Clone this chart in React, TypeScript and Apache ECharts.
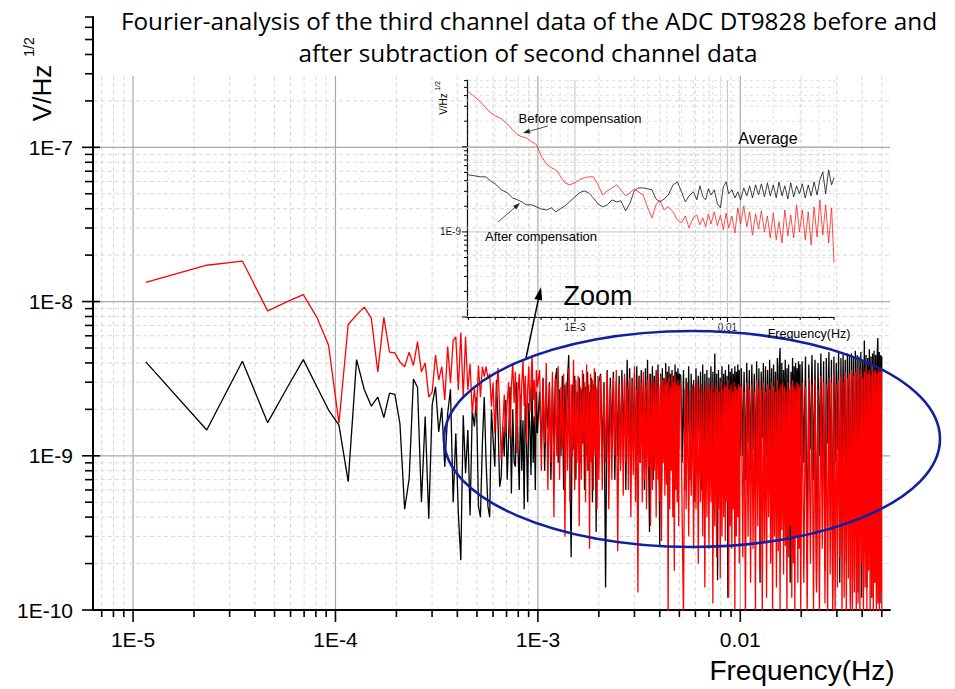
import React, { useEffect, useRef } from "react";
import * as echarts from "echarts";

// ---------------- data ----------------
// FFT bin spacing (Hz) of the spectra
const BIN_HZ = 1.156e-5;

// main chart, bins 1..86 (values in nV/Hz^1/2)
const afterLowNV = [
  4.06, 1.47, 4.1, 1.64, 2.77, 4.2, 2.8, 1.98, 1.58, 0.68,
  4.2, 2.69, 2.1, 2.4, 1.77, 2.55, 2.5, 1.63, 0.45, 0.71,
  3.15, 2.77, 0.5, 1.8, 0.39, 2.15, 2.8, 1.43, 2.05, 0.85,
  1.88, 2.7, 0.5, 1.4, 0.42, 0.21, 1.83, 0.77, 1.47, 0.41,
  1.98, 1.55, 2.4, 0.47, 0.4, 1.2, 2.4, 0.9, 0.47, 0.4,
  2.0, 1.26, 0.85, 3.1, 1.6, 0.63, 0.73, 1.55, 0.99, 2.3,
  0.7, 1.3, 2.8, 0.57, 2.0, 0.9, 0.85, 3.0, 1.1, 0.6,
  2.5, 0.8, 1.7, 0.45, 2.9, 1.2, 0.5, 2.2, 1.5, 0.75,
  3.2, 0.9, 1.8, 0.6, 2.6, 1.4,
];
const beforeLowNV = [
  13.3, 17.2, 18.3, 8.7, 10.0, 11.1, 7.9, 5.2, 1.63, 7.1,
  8.2, 9.2, 7.8, 3.5, 7.9, 4.7, 4.65, 4.06, 3.78, 4.7,
  3.85, 5.5, 3.5, 4.0, 2.4, 2.6, 4.5, 3.1, 3.78, 2.3,
  5.1, 2.95, 5.6, 5.9, 2.67, 6.3, 2.4, 5.9, 2.67, 3.97,
  1.88, 2.73, 1.88, 3.85, 2.4, 3.78, 3.26, 3.78, 3.17, 3.4,
  2.08, 2.98, 1.4, 2.6, 3.7, 2.0, 0.94, 1.5, 2.5, 1.4,
  2.2, 3.0, 1.3, 2.8, 4.0, 2.2, 3.5, 1.04, 2.6, 3.4,
  1.7, 2.9, 4.2, 2.1, 3.3, 1.2, 2.7, 3.8, 1.9, 3.0,
  4.5, 2.3, 3.1, 1.6, 3.6, 2.8,
];

// main chart, dense part (frequency in mHz, values in nV/Hz^1/2)
const denseFreqMHz = [
  1.02, 1.04, 1.06, 1.08, 1.1, 1.12, 1.14, 1.16, 1.18, 1.2, 1.22, 1.24, 1.26, 1.28, 1.3, 1.32, 1.34,
  1.36, 1.38, 1.4, 1.42, 1.44, 1.46, 1.48, 1.5, 1.52, 1.54, 1.56, 1.58, 1.6, 1.62, 1.64, 1.66, 1.68,
  1.7, 1.72, 1.74, 1.76, 1.78, 1.8, 1.82, 1.84, 1.86, 1.88, 1.9, 1.92, 1.94, 1.96, 1.98, 2.0,
  2.04, 2.08, 2.12, 2.16, 2.2, 2.24, 2.28, 2.32, 2.36, 2.4, 2.44, 2.48, 2.52, 2.56, 2.6, 2.64, 2.68,
  2.72, 2.76, 2.8, 2.84, 2.88, 2.92, 2.96, 3.0, 3.04, 3.08, 3.12, 3.16, 3.2, 3.24, 3.28, 3.32, 3.36,
  3.4, 3.44, 3.48, 3.52, 3.56, 3.6, 3.64, 3.68, 3.72, 3.76, 3.8, 3.84, 3.88, 3.92, 3.96, 4.0, 4.04,
  4.08, 4.12, 4.16, 4.2, 4.24, 4.28, 4.32, 4.36, 4.4, 4.44, 4.48, 4.52, 4.56, 4.6, 4.64, 4.68, 4.72,
  4.76, 4.8, 4.84, 4.88, 4.92, 4.96, 5.0,
  5.08, 5.16, 5.24, 5.32, 5.4, 5.48, 5.56, 5.64, 5.72, 5.8, 5.88, 5.96, 6.04, 6.12, 6.2, 6.28, 6.36,
  6.44, 6.52, 6.6, 6.68, 6.76, 6.84, 6.92, 7.0, 7.08, 7.16, 7.24, 7.32, 7.4, 7.48, 7.56, 7.64, 7.72,
  7.8, 7.88, 7.96, 8.04, 8.12, 8.2, 8.28, 8.36, 8.44, 8.52, 8.6, 8.68, 8.76, 8.84, 8.92, 9.0, 9.08,
  9.16, 9.24, 9.32, 9.4, 9.48, 9.56, 9.64, 9.72, 9.8, 9.88, 9.96,
  10.12, 10.28, 10.44, 10.6, 10.76, 10.92, 11.08, 11.24, 11.4, 11.56, 11.72, 11.88, 12.04, 12.2,
  12.36, 12.52, 12.68, 12.84, 13.0, 13.16, 13.32, 13.48, 13.64, 13.8, 13.96, 14.12, 14.28, 14.44,
  14.6, 14.76, 14.92, 15.08, 15.24, 15.4, 15.56, 15.72, 15.88, 16.04, 16.2, 16.36, 16.52, 16.68,
  16.84, 17.0, 17.16, 17.32, 17.48, 17.64, 17.8, 17.96, 18.12, 18.28, 18.44, 18.6, 18.76, 18.92,
  19.08, 19.24, 19.4, 19.56, 19.72, 19.88,
  20.2, 20.6, 21.0, 21.4, 21.8, 22.2, 22.6, 23.0, 23.4, 23.8, 24.2, 24.6, 25.0, 25.4, 25.8, 26.2,
  26.6, 27.0, 27.4, 27.8, 28.2, 28.6, 29.0, 29.4, 29.8, 30.2, 30.6, 31.0, 31.4, 31.8, 32.2, 32.6,
  33.0, 33.4, 33.8, 34.2, 34.6, 35.0, 35.4, 35.8, 36.2, 36.6, 37.0, 37.4, 37.8, 38.2, 38.6, 39.0,
  39.4, 39.8, 40.2, 40.6, 41.0, 41.4, 41.8, 42.2, 42.6, 43.0, 43.4, 43.8, 44.2, 44.6, 45.0, 45.4,
  45.8, 46.2, 46.6, 47.0, 47.4, 47.8, 48.2, 48.6, 49.0, 49.4, 49.8, 50.0,
];
const afterDenseNV = [
  2.6, 1.1, 3.2, 0.8, 2.4, 1.5, 3.0, 0.7, 2.8, 1.2,
  3.1, 3.7, 0.9, 2.7, 1.0, 3.3, 0.6, 2.9, 1.3, 3.1,
  4.5, 0.8, 0.22, 2.9, 1.1, 3.3, 0.7, 2.6, 1.4, 3.2,
  0.9, 2.7, 1.2, 3.4, 0.6, 2.8, 1.0, 3.5, 0.8, 2.6,
  1.3, 3.2, 0.5, 2.9, 1.1, 3.5, 0.32, 2.7, 0.9, 3.0,
  3.4, 1.0, 3.0, 0.14, 3.6, 0.8, 3.2, 1.3, 3.5, 0.7,
  3.0, 1.0, 3.3, 0.9, 3.6, 1.2, 3.1, 0.6, 4.2, 1.4,
  3.7, 0.8, 3.2, 1.1, 3.4, 0.7, 3.8, 1.0, 3.3, 0.9,
  3.6, 1.2, 3.1, 0.6, 3.7, 0.8, 4.2, 1.1, 0.32, 3.4,
  1.0, 3.8, 0.7, 3.3, 1.2, 3.6, 0.9, 3.9, 1.1, 0.26,
  3.4, 0.6, 3.7, 1.0, 3.2, 0.8, 4.0, 1.3, 3.5, 0.7,
  3.8, 1.1, 3.4, 0.9, 3.6, 1.2, 3.3, 0.8, 3.9, 1.0,
  3.5, 0.7, 3.7, 1.1, 3.4,
  3.3, 0.9, 3.6, 0.6, 3.2, 1.1, 3.8, 0.7, 3.4, 1.0,
  3.1, 0.5, 3.7, 0.9, 3.3, 1.2, 3.5, 0.6, 3.9, 0.8,
  3.4, 1.0, 3.6, 0.7, 3.2, 1.1, 3.8, 0.9, 3.5, 0.6,
  4.6, 0.8, 3.4, 0.156, 3.6, 1.0, 3.2, 0.7, 3.8, 1.1,
  3.4, 0.8, 3.6, 1.0, 3.3, 0.12, 3.9, 0.9, 3.5, 1.2,
  3.7, 0.6, 3.4, 1.0, 3.8, 0.8, 3.5, 1.1, 3.9, 0.7,
  3.6, 1.0,
  3.7, 1.0, 3.5, 0.7, 4.0, 1.2, 3.6, 0.8, 3.9, 1.1,
  3.4, 0.6, 4.1, 0.9, 3.7, 0.15, 3.5, 1.3, 4.0, 0.7,
  3.8, 1.0, 3.6, 0.8, 4.2, 1.2, 3.7, 0.6, 3.9, 1.0,
  3.5, 0.8, 4.3, 1.1, 3.8, 5.0, 0.7, 4.0, 0.9, 3.6,
  1.2, 4.2, 0.6, 3.7, 1.0, 3.9, 0.8, 0.15, 3.5, 1.1,
  4.3, 0.7, 3.8, 1.0, 4.0, 0.9, 3.7, 1.2, 4.1, 0.8,
  3.9, 1.0,
  4.1, 0.9, 4.4, 0.2, 3.9, 1.1, 4.5, 0.7, 4.2, 0.14,
  4.0, 1.0, 4.6, 0.8, 4.1, 0.18, 4.3, 1.2, 4.7, 0.6,
  4.2, 0.12, 4.4, 0.9, 4.0, 1.1, 4.8, 0.15, 4.3, 0.7,
  4.5, 1.0, 4.2, 0.2, 4.6, 0.8, 4.4, 0.11, 4.6, 1.0,
  4.3, 0.16, 4.8, 0.7, 4.5, 0.13, 4.4, 0.9, 4.7, 0.12,
  4.2, 1.0, 5.6, 0.8, 4.5, 0.14, 4.3, 1.1, 4.9, 0.7,
  4.4, 0.12, 4.6, 0.9, 4.8, 0.15, 4.5, 1.0, 4.3, 5.8,
  0.6, 4.7, 0.11, 4.5, 0.9, 4.4,
];
const beforeDenseNV = [
  3.6, 0.8, 3.1, 1.2, 4.0, 0.6, 2.9, 0.9, 3.5, 0.4,
  3.2, 1.0, 3.8, 0.7, 2.8, 1.1, 3.4, 0.3, 3.0, 0.8,
  3.7, 0.5, 2.9, 1.0, 4.2, 0.6, 3.1, 0.9, 3.3, 0.35,
  2.8, 0.7, 3.6, 1.2, 3.0, 0.5, 3.9, 0.8, 2.9, 0.25,
  3.4, 0.9, 3.1, 0.6, 3.7, 1.0, 2.8, 0.45, 3.3, 0.7,
  3.3, 0.6, 3.0, 0.9, 3.5, 0.45, 2.8, 0.7, 3.2, 1.0,
  3.6, 0.24, 2.9, 0.8, 3.1, 0.55, 3.4, 0.9, 2.8, 0.6,
  3.2, 0.4, 3.0, 0.75, 3.8, 0.5, 2.7, 0.13, 3.3, 0.9,
  3.0, 0.5, 3.5, 0.7, 2.8, 0.45, 3.1, 0.85, 3.4, 0.35,
  2.9, 0.6, 3.2, 0.8, 3.0, 0.4, 3.6, 0.7, 2.8, 0.5,
  3.3, 0.28, 3.1, 0.9, 2.9, 0.55, 3.4, 0.65, 3.0, 0.09,
  3.2, 0.45, 2.8, 0.8, 3.5, 0.4, 3.0, 0.18, 3.3, 0.6,
  2.9, 0.5, 3.1, 0.35, 2.8,
  2.9, 0.4, 0.09, 2.7, 0.45, 3.0, 0.3, 2.6, 0.55, 2.9,
  0.25, 2.8, 0.45, 3.1, 0.2, 2.7, 0.5, 2.9, 0.3, 2.6,
  0.14, 3.0, 0.4, 2.8, 0.25, 2.7, 0.5, 3.0, 0.11, 2.6,
  0.35, 2.9, 0.22, 2.8, 0.45, 2.6, 0.16, 3.0, 0.3, 2.7,
  0.4, 2.9, 0.28, 2.8, 0.5, 3.1, 0.12, 2.7, 0.35, 2.9,
  0.25, 2.6, 0.45, 3.0, 0.1, 2.8, 0.3, 2.7, 0.4, 2.9,
  0.2, 2.8,
  2.8, 0.22, 2.6, 0.09, 3.0, 0.3, 2.7, 0.15, 2.9, 0.25,
  2.6, 0.1, 3.1, 0.35, 2.8, 0.18, 2.7, 0.09, 3.0, 0.28,
  2.6, 0.12, 2.9, 0.4, 2.7, 0.2, 3.0, 0.09, 2.8, 0.3,
  2.6, 0.14, 3.1, 0.24, 2.7, 0.1, 2.9, 0.33, 3.0, 0.17,
  2.8, 0.26, 2.6, 0.09, 3.0, 0.22, 2.7, 0.35, 2.9, 0.12,
  3.1, 0.2, 2.8, 0.09, 2.7, 0.3, 3.0, 0.15, 2.9, 0.25,
  2.8, 0.1,
  3.0, 0.15, 2.8, 0.09, 3.2, 0.2, 2.9, 0.1, 3.1, 0.13,
  2.7, 0.09, 3.3, 0.25, 3.0, 0.11, 2.9, 0.09, 3.2, 0.17,
  3.0, 0.1, 3.4, 0.09, 2.9, 0.14, 3.1, 0.22, 3.3, 0.09,
  3.0, 0.12, 3.5, 0.09, 3.2, 0.16, 3.4, 0.1, 3.6, 0.09,
  3.3, 0.13, 3.5, 0.09, 3.7, 0.11, 3.4, 0.09, 3.6, 0.2,
  3.2, 0.09, 3.5, 0.14, 3.7, 0.1, 3.4, 0.18, 3.6, 0.09,
  3.3, 0.12, 3.8, 0.09, 3.5, 0.15, 3.6, 0.09, 3.4, 0.11,
  3.7, 0.09, 3.5, 0.13, 3.6, 0.08,
];

// inset (averaged spectra): frequency in mHz, values in nV/Hz^1/2
const insetFreqMHz = [
  0.2, 0.22, 0.24, 0.26, 0.28, 0.3, 0.33, 0.36, 0.39, 0.42, 0.45, 0.48, 0.52, 0.56, 0.6, 0.65, 0.7, 0.75, 0.8, 0.86, 0.92,
  1.0, 1.07, 1.15, 1.23, 1.32, 1.42, 1.52, 1.63, 1.75, 1.88, 2.0, 2.15, 2.3, 2.45, 2.6, 2.8, 3.0, 3.2, 3.4, 3.6, 3.85,
  4.1, 4.4, 4.7, 5.0, 5.3, 5.6,
  6.0, 6.3, 6.6, 6.9, 7.2, 7.5, 7.8, 8.2, 8.6, 9.0, 9.4, 9.8, 10.2, 10.7, 11.2, 11.7, 12.2, 12.8, 13.4, 14.0,
  14.6, 15.3, 16.0, 16.7, 17.5, 18.3, 19.1, 20.0, 20.9, 21.8, 22.8, 23.8, 24.9, 26.0, 27.2, 28.4, 29.7, 31.0,
  32.4, 33.9, 35.4, 37.0, 38.7, 40.4, 42.2, 44.1, 46.1, 48.2, 50.0,
];
const insetBeforeNV = [
  44.4, 38.7, 33.8, 28.8, 25.1, 23.2, 21.3, 18.7, 15.85, 13.8, 13.1, 12.8, 11.5, 10.6, 7.84, 6.31, 5.66, 5.36, 4.56, 3.77, 3.57,
  3.77, 4.09, 4.32, 4.44, 4.44, 3.57, 2.72, 3.04, 3.29, 3.57, 3.12, 2.65, 2.88, 3.21, 2.96, 2.72, 1.92, 1.46, 2.08, 2.38, 1.81,
  1.97, 1.72, 1.38, 1.28, 1.54, 1.11,
  1.5, 1.58, 1.21, 1.46, 1.15, 1.63, 1.24, 1.72, 1.18, 1.58, 1.06, 1.67, 1.11, 1.54, 0.97, 1.92, 1.24, 2.02, 1.15, 1.72,
  0.92, 1.63, 1.08, 1.77, 1.0, 1.54, 0.85, 1.67, 0.81, 1.31, 0.74, 1.81, 0.9, 1.58, 0.85, 2.08, 1.0, 1.81, 0.81, 1.72,
  0.7, 1.97, 0.87, 2.38, 0.92, 2.08, 0.74, 1.92, 0.44,
];
const insetAfterNV = [
  4.69, 4.56, 4.44, 4.44, 3.98, 3.67, 3.12, 2.88, 2.51, 2.38, 2.25, 2.08, 2.08, 1.97, 1.86, 1.81, 1.92, 1.72, 1.86, 2.02, 2.25,
  2.58, 2.88, 3.04, 2.88, 2.51, 2.13, 1.97, 2.08, 2.38, 2.25, 2.32, 1.77, 2.19, 3.04, 3.29, 3.29, 3.21, 3.12, 2.44, 2.25, 2.44,
  2.72, 3.57, 3.87, 2.96, 2.25, 2.65,
  2.96, 2.38, 3.48, 2.58, 2.38, 3.21, 2.72, 3.12, 2.13, 1.92, 3.38, 3.87, 2.8, 3.12, 2.51, 2.96, 2.38, 3.29, 2.65, 3.48,
  2.51, 3.57, 2.72, 3.67, 2.58, 3.77, 2.65, 3.57, 2.51, 3.87, 2.65, 3.48, 2.44, 3.77, 2.58, 3.48, 2.8, 3.67, 2.51, 3.57,
  2.65, 3.87, 2.72, 4.09, 5.08, 2.8, 5.36, 3.57, 4.32,
];

// axes: ranges and ticks
const MAIN_X_RANGE = [6.34e-6, 0.0549];
const MAIN_Y_RANGE = [1e-10, 7e-7];
const MAIN_GRID_TOP = 2.9e-7;
const INSET_X_RANGE = [1.96e-4, 0.05];
const INSET_Y_RANGE = [1e-10, 6.1e-8];
const MAIN_X_MAJOR = [1e-5, 1e-4, 1e-3, 1e-2];
const MAIN_X_DECADES = [1e-6, 1e-5, 1e-4, 1e-3, 1e-2];
const MAIN_Y_MAJOR = [1e-10, 1e-9, 1e-8, 1e-7];
const MAIN_Y_DECADES = [1e-10, 1e-9, 1e-8, 1e-7];
const INSET_X_MAJOR = [1e-3, 1e-2];
const INSET_X_DECADES = [1e-4, 1e-3, 1e-2];
const INSET_Y_MAJOR = [1e-10, 1e-9, 1e-8];
const INSET_Y_DECADES = [1e-10, 1e-9, 1e-8];
const MINOR_MULT = [2, 3, 4, 5, 6, 7, 8, 9];

const TITLE_1 = "Fourier-analysis of the third channel data of the ADC DT9828 before and";
const TITLE_2 = "after subtraction of second channel data";

// ---------------- helpers ----------------
const SANS = "'Liberation Sans', Arial, sans-serif";
const TITLE_FONT = "'Open Sans', 'Liberation Sans', sans-serif";
const NV = 1e-9;

const mainAfter = [
  ...afterLowNV.map((v, i) => [(i + 1) * BIN_HZ, v * NV]),
  ...afterDenseNV.map((v, i) => [denseFreqMHz[i] * 1e-3, v * NV]),
];
const mainBefore = [
  ...beforeLowNV.map((v, i) => [(i + 1) * BIN_HZ, v * NV]),
  ...beforeDenseNV.map((v, i) => [denseFreqMHz[i] * 1e-3, v * NV]),
];
const insetAfter = insetAfterNV.map((v, i) => [insetFreqMHz[i] * 1e-3, v * NV]);
const insetBefore = insetBeforeNV.map((v, i) => [insetFreqMHz[i] * 1e-3, v * NV]);

const inRange = (v: number, r: number[]) => v >= r[0] * 0.9999 && v <= r[1] * 1.0001;
const minors = (dec: number[], r: number[]) =>
  dec.flatMap((d) => MINOR_MULT.map((m) => m * d)).filter((v) => inRange(v, r));

function tickItems(majX: number[], decX: number[], majY: number[], decY: number[], xr: number[], yr: number[]) {
  const xMid = Math.sqrt(xr[0] * xr[1]);
  const yMid = Math.sqrt(yr[0] * yr[1]);
  const items: number[][] = [];
  majX.filter((v) => inRange(v, xr)).forEach((v) => items.push([v, yMid, 0, 1]));
  minors(decX, xr).forEach((v) => items.push([v, yMid, 0, 0]));
  majY.filter((v) => inRange(v, yr)).forEach((v) => items.push([xMid, v, 1, 1]));
  minors(decY, yr).forEach((v) => items.push([xMid, v, 1, 0]));
  return items;
}

type TickCfg = {
  gridTop: number;
  majorGrid: string;
  minorGrid: string;
  majorGridWidth: number;
  minorGridWidth: number;
  dash: number[];
  tickColor: string;
  tickWidth: number;
  xMajorLen: number;
  xMinorLen: number;
  yMajorOut: number;
  yMajorIn: number;
  yMinorOut: number;
};

function makeRender(cfg: TickCfg) {
  return (params: any, api: any) => {
    const cs = params.coordSys;
    const left = cs.x;
    const right = cs.x + cs.width;
    const bottom = cs.y + cs.height;
    const xv = api.value(0);
    const yv = api.value(1);
    const axis = api.value(2);
    const major = api.value(3) === 1;
    const children: any[] = [];
    const gridStyle = major
      ? { stroke: cfg.majorGrid, lineWidth: cfg.majorGridWidth }
      : { stroke: cfg.minorGrid, lineWidth: cfg.minorGridWidth, lineDash: cfg.dash };
    const tickStyle = { stroke: cfg.tickColor, lineWidth: cfg.tickWidth };
    if (axis === 0) {
      const px = api.coord([xv, yv])[0];
      const topPx = api.coord([xv, cfg.gridTop])[1];
      children.push({ type: "line", shape: { x1: px, y1: topPx, x2: px, y2: bottom - 1 }, style: gridStyle });
      children.push({
        type: "line",
        shape: { x1: px, y1: bottom, x2: px, y2: bottom + (major ? cfg.xMajorLen : cfg.xMinorLen) },
        style: tickStyle,
      });
    } else {
      const py = api.coord([xv, yv])[1];
      if (yv <= cfg.gridTop * 1.0001 && py < bottom - 1.5) {
        children.push({ type: "line", shape: { x1: left + 1, y1: py, x2: right, y2: py }, style: gridStyle });
      }
      children.push({
        type: "line",
        shape: {
          x1: left - (major ? cfg.yMajorOut : cfg.yMinorOut),
          y1: py,
          x2: left + (major ? cfg.yMajorIn : 0),
          y2: py,
        },
        style: tickStyle,
      });
    }
    return { type: "group", children };
  };
}

const powLabel = (v: number) => {
  const e = Math.log10(v);
  const r = Math.round(e);
  if (Math.abs(e - r) > 1e-6) return "";
  if (r >= -2) return Math.pow(10, r).toFixed(Math.max(0, -r));
  return `1E${r}`;
};

function text(t: string, x: number, y: number, size: number, font = SANS, rotation = 0, align = "center") {
  return {
    type: "text",
    x,
    y,
    rotation,
    z: 100,
    silent: true,
    style: {
      text: t,
      fill: "#000",
      fontSize: size,
      fontFamily: font,
      align,
      verticalAlign: "middle",
      textAlign: align,
      textVerticalAlign: "middle",
    },
  };
}

function arrow(x1: number, y1: number, x2: number, y2: number, color: string, width: number, headLen: number, headW: number) {
  const dx = x2 - x1;
  const dy = y2 - y1;
  const L = Math.hypot(dx, dy);
  const ux = dx / L;
  const uy = dy / L;
  const bx = x2 - ux * headLen;
  const by = y2 - uy * headLen;
  const px = -uy * headW;
  const py = ux * headW;
  return [
    { type: "line", z: 100, silent: true, shape: { x1, y1, x2: bx, y2: by }, style: { stroke: color, lineWidth: width } },
    {
      type: "polygon",
      z: 100,
      silent: true,
      shape: { points: [[x2, y2], [bx + px, by + py], [bx - px, by - py]] },
      style: { fill: color },
    },
  ];
}

// ---------------- option ----------------
function buildOption() {
  const mainTicks = tickItems(MAIN_X_MAJOR, MAIN_X_DECADES, MAIN_Y_MAJOR, MAIN_Y_DECADES, MAIN_X_RANGE, MAIN_Y_RANGE);
  const insetTicks = tickItems(INSET_X_MAJOR, INSET_X_DECADES, INSET_Y_MAJOR, INSET_Y_DECADES, INSET_X_RANGE, INSET_Y_RANGE);

  const mainRender = makeRender({
    gridTop: MAIN_GRID_TOP,
    majorGrid: "#a9a9a9",
    minorGrid: "#d4d4d4",
    majorGridWidth: 1.2,
    minorGridWidth: 0.9,
    dash: [4, 3],
    tickColor: "#000",
    tickWidth: 1.6,
    xMajorLen: 12,
    xMinorLen: 7,
    yMajorOut: 11,
    yMajorIn: 7,
    yMinorOut: 8,
  });
  const insetRender = makeRender({
    gridTop: INSET_Y_RANGE[1],
    majorGrid: "#c4c4c4",
    minorGrid: "#dadada",
    majorGridWidth: 1,
    minorGridWidth: 0.8,
    dash: [3, 3],
    tickColor: "#000",
    tickWidth: 1,
    xMajorLen: 5,
    xMinorLen: 3,
    yMajorOut: 5,
    yMajorIn: 0,
    yMinorOut: 3,
  });

  const axisBase = {
    type: "log",
    logBase: 10,
    axisTick: { show: false },
    minorTick: { show: false },
    splitLine: { show: false },
    minorSplitLine: { show: false },
    splitArea: { show: false },
  };

  const graphics: any[] = [
    text(TITLE_1, 529, 20, 24.3, TITLE_FONT),
    text(TITLE_2, 528, 52, 24.3, TITLE_FONT),
    text("V/Hz", 42, 93, 26, SANS, Math.PI / 2),
    text("1/2", 29, 47, 14, SANS, Math.PI / 2),
    text("Frequency(Hz)", 802, 670, 28),
    text("Before compensation", 580, 118, 13),
    text("After compensation", 541, 236, 13),
    text("Average", 768, 138, 16),
    text("Zoom", 598, 296, 27),
    text("Frequency(Hz)", 809, 334, 12.5),
    text("V/Hz", 443, 104, 10, SANS, Math.PI / 2),
    text("1/2", 437, 86, 7, SANS, Math.PI / 2),
    ...arrow(548, 126, 523, 133, "#222", 0.8, 7, 2.5),
    ...arrow(498, 222, 520, 203, "#222", 0.8, 7, 2.5),
    ...arrow(526, 358, 541, 287, "#000", 1.5, 13, 4),
    {
      type: "ellipse",
      z: 99,
      silent: true,
      shape: { cx: 692, cy: 439, rx: 248, ry: 108 },
      style: { fill: "none", stroke: "#10209e", lineWidth: 2.6 },
    },
  ];

  return {
    animation: false,
    backgroundColor: "#ffffff",
    grid: [
      { left: 93, right: 65, top: 17, bottom: 79, containLabel: false, outerBoundsMode: "none", show: false },
      { left: 467, right: 121, top: 80, bottom: 372, containLabel: false, outerBoundsMode: "none", show: false },
    ],
    xAxis: [
      {
        ...axisBase,
        gridIndex: 0,
        min: MAIN_X_RANGE[0],
        max: MAIN_X_RANGE[1],
        axisLine: { show: true, onZero: false, lineStyle: { color: "#000", width: 2 } },
        axisLabel: { show: true, formatter: powLabel, fontSize: 21, fontFamily: SANS, color: "#000", margin: 19 },
      },
      {
        ...axisBase,
        gridIndex: 1,
        min: INSET_X_RANGE[0],
        max: INSET_X_RANGE[1],
        axisLine: { show: true, onZero: false, lineStyle: { color: "#000", width: 1.2 } },
        axisLabel: { show: true, formatter: powLabel, fontSize: 10, fontFamily: SANS, color: "#111", margin: 5 },
      },
    ],
    yAxis: [
      {
        ...axisBase,
        gridIndex: 0,
        min: MAIN_Y_RANGE[0],
        max: MAIN_Y_RANGE[1],
        axisLine: { show: true, onZero: false, lineStyle: { color: "#000", width: 2 } },
        axisLabel: { show: true, formatter: powLabel, fontSize: 21, fontFamily: SANS, color: "#000", margin: 20 },
      },
      {
        ...axisBase,
        gridIndex: 1,
        min: INSET_Y_RANGE[0],
        max: INSET_Y_RANGE[1],
        axisLine: { show: true, onZero: false, lineStyle: { color: "#000", width: 1.2 } },
        axisLabel: {
          show: true,
          formatter: (v: number) => (powLabel(v) === "1E-9" ? "1E-9" : ""),
          fontSize: 10,
          fontFamily: SANS,
          color: "#111",
          margin: 6,
        },
      },
    ],
    series: [
      {
        type: "custom",
        name: "mainTicks",
        xAxisIndex: 0,
        yAxisIndex: 0,
        data: mainTicks,
        renderItem: mainRender,
        clip: false,
        silent: true,
        z: 1,
      },
      {
        type: "custom",
        name: "insetTicks",
        xAxisIndex: 1,
        yAxisIndex: 1,
        data: insetTicks,
        renderItem: insetRender,
        clip: false,
        silent: true,
        z: 1,
      },
      {
        type: "line",
        name: "After compensation",
        xAxisIndex: 0,
        yAxisIndex: 0,
        data: mainAfter,
        showSymbol: false,
        symbol: "none",
        clip: true,
        lineStyle: { color: "#000", width: 1.3 },
        z: 3,
      },
      {
        type: "line",
        name: "Before compensation",
        xAxisIndex: 0,
        yAxisIndex: 0,
        data: mainBefore,
        showSymbol: false,
        symbol: "none",
        clip: true,
        lineStyle: { color: "#ff0000", width: 1.3 },
        z: 4,
      },
      {
        type: "line",
        name: "Inset after",
        xAxisIndex: 1,
        yAxisIndex: 1,
        data: insetAfter,
        showSymbol: false,
        symbol: "none",
        clip: true,
        lineStyle: { color: "#111", width: 0.8 },
        z: 5,
      },
      {
        type: "line",
        name: "Inset before",
        xAxisIndex: 1,
        yAxisIndex: 1,
        data: insetBefore,
        showSymbol: false,
        symbol: "none",
        clip: true,
        lineStyle: { color: "#ff2020", width: 0.8 },
        z: 6,
      },
    ],
    graphic: graphics,
  };
}

export default function App() {
  const ref = useRef<HTMLDivElement>(null);
  useEffect(() => {
    if (!ref.current) return;
    const chart = echarts.init(ref.current, undefined, { renderer: "svg" });
    chart.setOption(buildOption() as any);
    return () => chart.dispose();
  }, []);
  return (
    <div
      ref={ref}
      style={{ position: "fixed", left: 0, top: 0, width: 955, height: 689, background: "#fff" }}
    />
  );
}
